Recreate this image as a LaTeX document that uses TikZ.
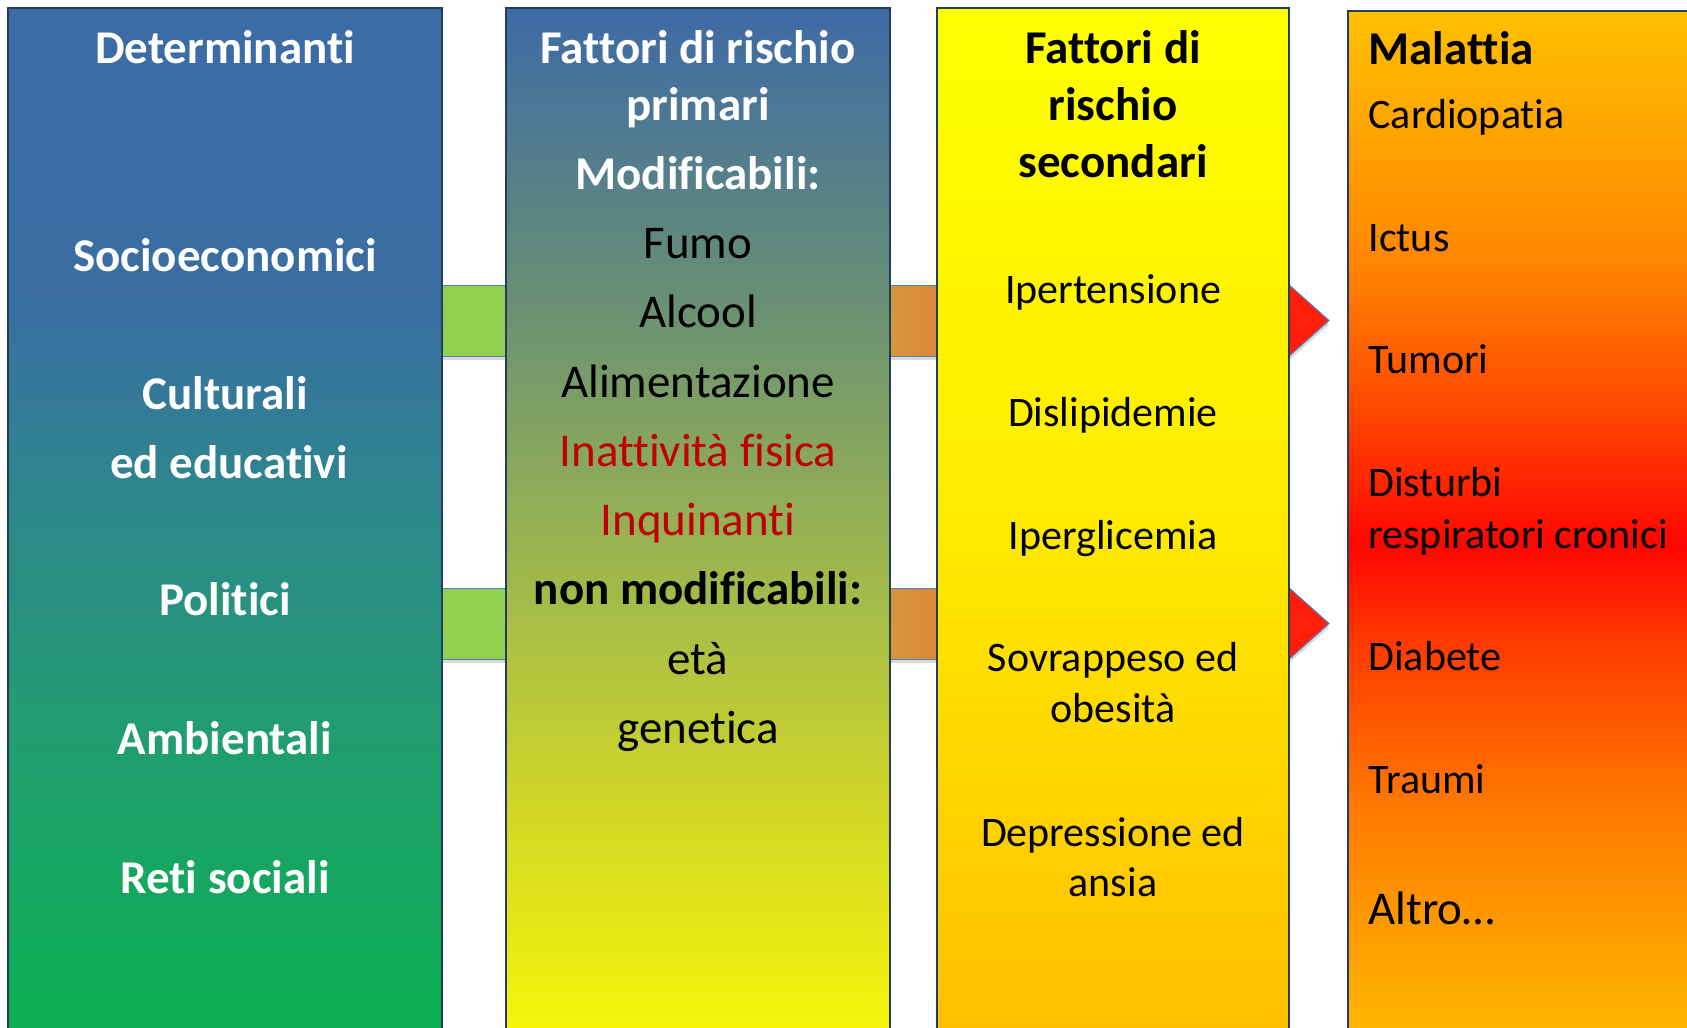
\documentclass[tikz,border=0pt]{standalone}
\usepackage{fontspec}
\setmainfont{Carlito}[Ligatures={NoCommon}]
\usetikzlibrary{shadows}

% colori
\definecolor{bordo}{RGB}{36,60,94}
\definecolor{azzurro}{RGB}{79,129,189}
\definecolor{verdeponte}{RGB}{146,208,80}
\definecolor{arancioA}{RGB}{212,150,60}
\definecolor{arancioB}{RGB}{218,136,52}
\definecolor{rossofreccia}{RGB}{255,30,10}
\definecolor{rossotesto}{RGB}{192,0,0}

\definecolor{detA}{RGB}{59,108,165}
\definecolor{detB}{RGB}{58,110,163}
\definecolor{detC}{RGB}{45,135,140}
\definecolor{detD}{RGB}{35,155,115}
\definecolor{detE}{RGB}{10,176,80}

\definecolor{priA}{RGB}{62,106,166}
\definecolor{priB}{RGB}{100,140,120}
\definecolor{priC}{RGB}{165,188,72}
\definecolor{priD}{RGB}{210,215,38}
\definecolor{priE}{RGB}{248,246,8}

\definecolor{secA}{RGB}{255,255,0}
\definecolor{secB}{RGB}{255,236,0}
\definecolor{secC}{RGB}{255,190,0}

\definecolor{malA}{RGB}{255,192,0}
\definecolor{malB}{RGB}{255,135,0}
\definecolor{malC}{RGB}{255,75,0}
\definecolor{malD}{RGB}{255,5,0}
\definecolor{malE}{RGB}{255,60,0}
\definecolor{malF}{RGB}{255,120,0}
\definecolor{malG}{RGB}{255,185,0}

% sfumature delle colonne (dal basso verso l'alto)
\pgfdeclareverticalshading{detshade}{100bp}{color(0bp)=(detE); color(25bp)=(detE);
  color(41bp)=(detD); color(51bp)=(detC); color(61bp)=(detB); color(75bp)=(detA); color(100bp)=(detA)}
\pgfdeclareverticalshading{prishade}{100bp}{color(0bp)=(priE); color(25bp)=(priE);
  color(36bp)=(priD); color(46bp)=(priC); color(62bp)=(priB); color(75bp)=(priA); color(100bp)=(priA)}
\pgfdeclareverticalshading{secshade}{100bp}{color(0bp)=(secC); color(25bp)=(secC);
  color(51bp)=(secB); color(75bp)=(secA); color(100bp)=(secA)}
\pgfdeclareverticalshading{malshade}{100bp}{color(0bp)=(malG); color(25bp)=(malG);
  color(36.5bp)=(malF); color(44bp)=(malE); color(49bp)=(malD); color(56bp)=(malC);
  color(63bp)=(malB); color(75bp)=(malA); color(100bp)=(malA)}

\begin{document}
\begin{tikzpicture}[x=1pt,y=-1pt,
    colonna/.style={draw=bordo, line width=1.5pt, shade},
    titolo/.style={font=\fontsize{47}{56}\selectfont\bfseries, anchor=base},
    voce/.style={font=\fontsize{47}{56}\selectfont, anchor=base},
    vocepiccola/.style={font=\fontsize{42}{50}\selectfont, anchor=base},
    ponte/.style={draw=azzurro, line width=1pt,
        drop shadow={shadow xshift=0pt, shadow yshift=-4pt, opacity=0.3}}]
    \useasboundingbox (0,0) rectangle (1687,1028);
    \clip (0,0) rectangle (1687,1028);

    % Collegamenti tra le colonne
    \foreach \y in {285,588} {
        \draw[ponte, fill=verdeponte] (442,\y) rectangle (506,\y+71);
        \draw[ponte, left color=arancioA, right color=arancioB] (890,\y) rectangle (937,\y+71);
        \draw[ponte, fill=rossofreccia] (1287,\y-2) -- (1329,\y+35.5) -- (1287,\y+73) -- cycle;
    }

    % Colonne
    \draw[colonna, shading=detshade] (8,8) rectangle (442,1040);
    \draw[colonna, shading=prishade] (506,8) rectangle (890,1040);
    \draw[colonna, shading=secshade] (937,8) rectangle (1289,1040);
    \draw[colonna, shading=malshade] (1348,11) rectangle (1700,1040);

    % Determinanti
    \node[titolo, text=white] (det) at (225,63) {Determinanti};
    \foreach \testo/\x/\y [count=\i] in {Socioeconomici/225/271, Culturali/225/409,
        ed educativi/229/478, Politici/225/615, Ambientali/225/754, Reti sociali/225/893}
        \node[titolo, text=white] (det\i) at (\x,\y) {\testo};

    % Fattori di rischio primari
    \node[titolo, text=white] (pri) at (698,63) {Fattori di rischio};
    \node[titolo, text=white] (pri2) at (698,120) {primari};
    \node[titolo, text=white] (mod) at (698,189) {Modificabili:};
    \node[voce] (fumo) at (698,258) {Fumo};
    \node[voce] (alcool) at (698,327) {Alcool};
    \node[voce] (alim) at (698,397) {Alimentazione};
    \node[voce, text=rossotesto] (inatt) at (698,466) {Inattività fisica};
    \node[voce, text=rossotesto] (inq) at (698,535) {Inquinanti};
    \node[titolo] (nonmod) at (698,604) {non modificabili:};
    \node[voce] (eta) at (698,674) {età};
    \node[voce] (gen) at (698,743) {genetica};

    % Fattori di rischio secondari
    \node[titolo] (sec) at (1113,63) {Fattori di};
    \node[titolo] (sec2) at (1113,120) {rischio};
    \node[titolo] (sec3) at (1113,177) {secondari};
    \foreach \testo/\y [count=\i] in {Ipertensione/303, Dislipidemie/426, Iperglicemia/549,
        Sovrappeso ed/671, obesità/722, Depressione ed/846, ansia/896}
        \node[vocepiccola] (sec\i) at (1113,\y) {\testo};

    % Malattia
    \node[titolo, anchor=base west] (mal) at (1365,64) {Malattia};
    \foreach \testo/\y [count=\i] in {Cardiopatia/128, Ictus/251, Tumori/373, Disturbi/496,
        respiratori cronici/548, Diabete/670, Traumi/793}
        \node[vocepiccola, anchor=base west] (mal\i) at (1365,\y) {\testo};
    \node[voce, anchor=base west] (altro) at (1365,924) {Altro…};
\end{tikzpicture}
\end{document}
